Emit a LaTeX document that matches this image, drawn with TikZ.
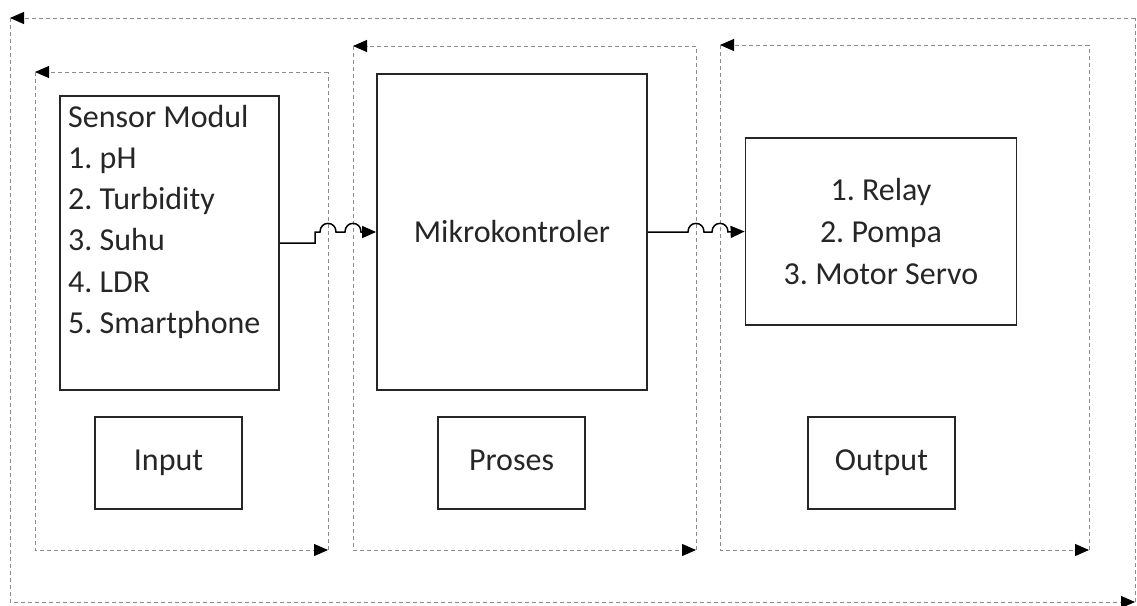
\documentclass[tikz,border=0pt]{standalone}
\usepackage{fontspec}
\setmainfont{Carlito}
\usetikzlibrary{arrows.meta}
\frenchspacing
\begin{document}
\begin{tikzpicture}[x=1pt,y=-1pt,
  frame/.style={draw=black!45, line width=1pt, dash pattern=on 4pt off 3pt},
  tipend/.style={-{Triangle[length=14pt,width=12pt,color=black]}},
  box/.style={draw=black!85, line width=1.8pt, rectangle, inner sep=0pt,
    font=\fontsize{32}{41}\selectfont, text=black!85},
  txt/.style={inner sep=0pt, font=\fontsize{32}{41}\selectfont, text=black!85},
  wire/.style={draw=black, line width=1.5pt}]
\useasboundingbox (0,0) rectangle (1137,605);
% outer frame
\draw[frame,tipend] (1135,18) -- (10,18);
\draw[frame,tipend] (10,18) -- (10,602) -- (1135,602);
\draw[frame] (1135,602) -- (1135,18);
% input frame
\draw[frame,tipend] (328,72) -- (35,72);
\draw[frame,tipend] (35,72) -- (35,550) -- (328,550);
\draw[frame] (328,550) -- (328,72);
% proses frame
\draw[frame,tipend] (696,46) -- (353,46);
\draw[frame,tipend] (353,46) -- (353,550) -- (696,550);
\draw[frame] (696,550) -- (696,46);
% output frame
\draw[frame,tipend] (1089,45) -- (720,45);
\draw[frame,tipend] (720,45) -- (720,550) -- (1089,550);
\draw[frame] (1089,550) -- (1089,45);
% boxes
\node[box, minimum width=219pt, minimum height=294pt] (sensor) at (169.5,243) {};
\foreach \t [count=\i from 0] in {Sensor Modul,1. pH,2. Turbidity,3. Suhu,4. LDR,5. Smartphone}
  \node[txt, anchor=base west] (s\i) at (68,127+41.3*\i) {\t};
\node[box, minimum width=270pt, minimum height=316pt] (mikro) at (512,232) {Mikrokontroler};
\node[box, minimum width=271pt, minimum height=187pt] (outitems) at (881,231.5) {};
\node[txt, anchor=base] (o1) at (881,200) {1. Relay};
\node[txt, anchor=base] (o2) at (881,242) {2. Pompa};
\node[txt, anchor=base] (o3) at (881,284) {3. Motor Servo};
\node[box, minimum width=147pt, minimum height=92pt, text height=21pt, text depth=7pt] (input) at (168.5,463) {Input};
\node[box, minimum width=147pt, minimum height=92pt, text height=21pt, text depth=7pt] (proses) at (511.5,463) {Proses};
\node[box, minimum width=147pt, minimum height=92pt, text height=21pt, text depth=7pt] (output) at (881.5,463) {Output};
% connectors with jumps
\draw[wire,tipend] (sensor.east) -- (315,243) -- (315,232) -- (320,232)
  .. controls (320,220.5) and (336,220.5) .. (336,232) -- (345,232)
  .. controls (345,220.5) and (361,220.5) .. (361,232) -- (mikro.west);
\draw[wire,tipend] (mikro.east) -- (688,232)
  .. controls (688,220.5) and (704,220.5) .. (704,232) -- (712,232)
  .. controls (712,220.5) and (728,220.5) .. (728,232) -- (outitems.west);
\end{tikzpicture}
\end{document}
